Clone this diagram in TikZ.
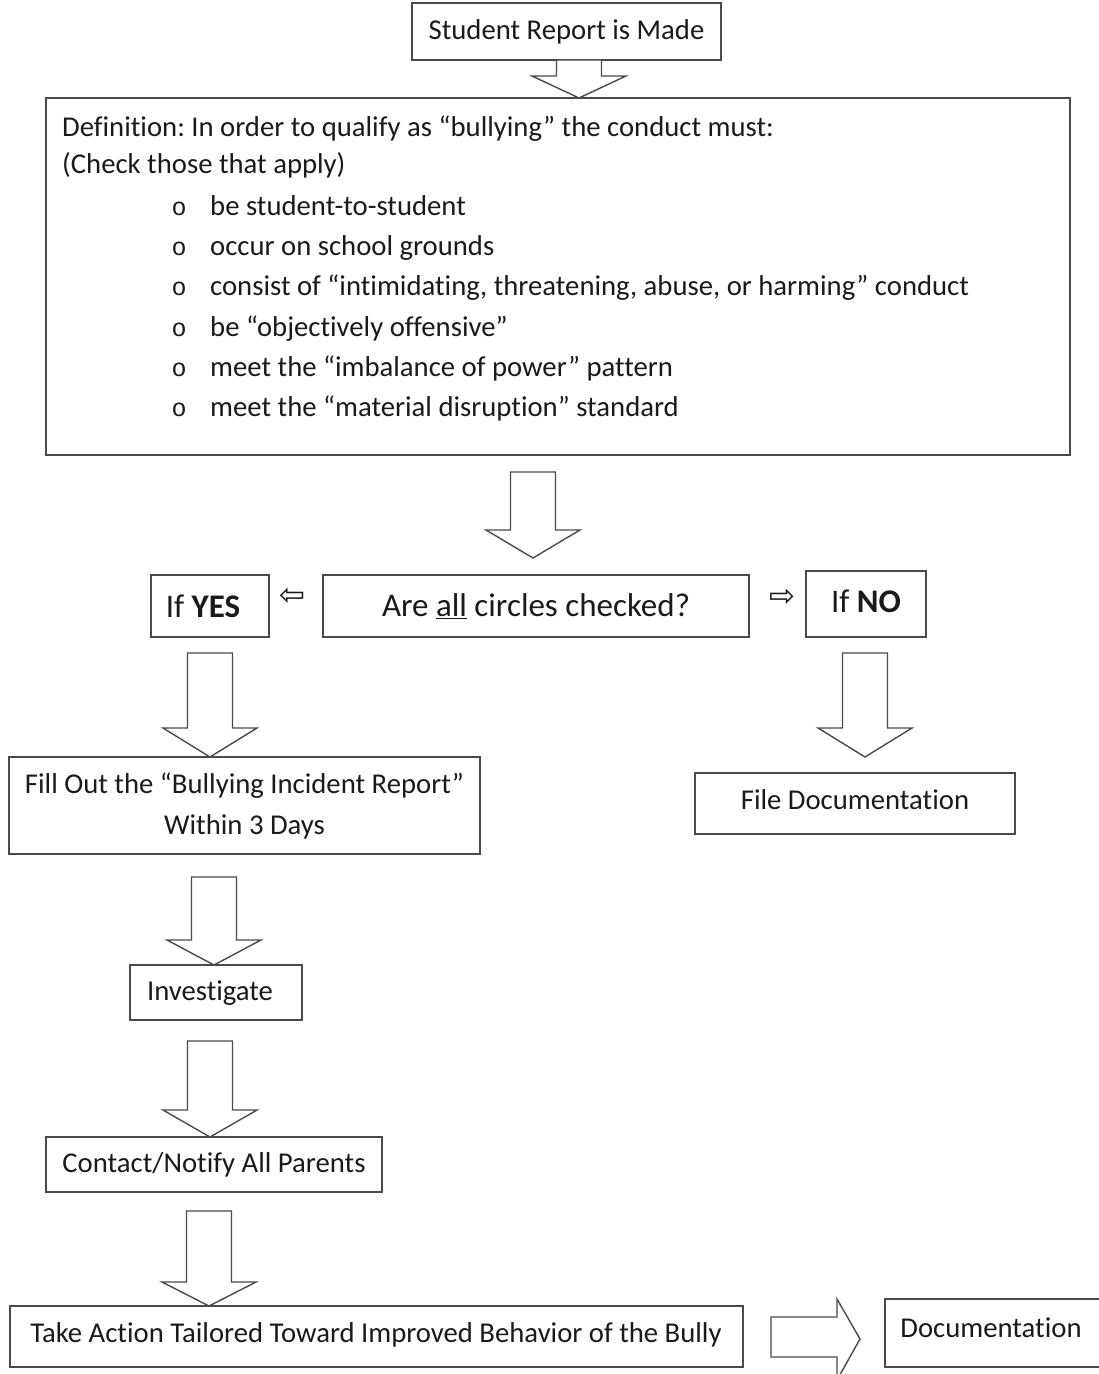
\documentclass[tikz,border=0pt]{standalone}
\usepackage{fontspec}
\setmainfont{Carlito}[Ligatures={NoCommon,NoRare,NoDiscretionary}]
\newfontfamily\symfont{DejaVu Sans}
\newfontfamily\bulfont{Liberation Mono}
\definecolor{linegray}{HTML}{4A4A4A}
\definecolor{txt}{HTML}{1A1A1A}
\frenchspacing
\newcommand\blockdown[4]{% center x, top y, head y, tip y
  \draw[arrowline] ({#1-22.5},#2) -- ({#1+22.5},#2) -- ({#1+22.5},#3) -- ({#1+47},#3) -- (#1,#4) -- ({#1-47},#3) -- ({#1-22.5},#3) -- cycle;}
\begin{document}
\begin{tikzpicture}[x=1pt,y=-1pt,
  box/.style={draw=linegray, line width=1.4pt, inner sep=0pt, text=txt, align=center, font=\fontsize{28.7}{41}\selectfont},
  tx/.style={inner sep=0pt, text=txt, align=center, font=\fontsize{28.7}{41}\selectfont},
  bigtxt/.style={inner sep=0pt, text=txt, font=\fontsize{33}{38}\selectfont},
  deftxt/.style={anchor=base west, inner sep=0pt, text=txt, font=\fontsize{28.7}{34}\selectfont},
  bul/.style={anchor=base, inner sep=0pt, text=txt, font=\bulfont\fontsize{25}{28}\selectfont},
  arrowline/.style={draw=linegray, line width=1.4pt, fill=white, line join=miter},
  smallarr/.style={inner sep=0pt, text=txt, font=\symfont\fontsize{31}{34}\selectfont}]
\useasboundingbox (0,0) rectangle (1099,1374);
\clip (0,0) rectangle (1099,1374);
\fill[white] (0,0) rectangle (1099,1374);

\node[box, minimum width=309pt, minimum height=57pt] (report) at (566.5,31.5) {Student Report is Made};
\node[box, minimum width=1024pt, minimum height=357pt] (def) at (558,276.5) {};
\node[deftxt] (d1) at (62,136) {Definition: In order to qualify as “bullying” the conduct must:};
\node[deftxt] (d2) at (62,173) {(Check those that apply)};
\foreach \yy/\tt [count=\i] in {215/be student-to-student, 255/occur on school grounds, 295/consist of “intimidating{,} threatening{,} abuse{,} or harming” conduct, 336/be “objectively offensive”, 376/meet the “imbalance of power” pattern, 416/meet the “material disruption” standard}{
  \node[bul] (b\i) at (179,\yy) {o};
  \node[deftxt] (t\i) at (210,\yy) {\tt};
}
\blockdown{579}{60}{76}{98}

\blockdown{533}{472}{530}{558}
\node[box, minimum width=426pt, minimum height=62pt] (q) at (536,606) {};
\node[bigtxt] (qt) at (536,606) {Are \underline{all} circles checked?};
\node[box, minimum width=118pt, minimum height=62pt] (yes) at (210,606) {};
\node[bigtxt] (yest) at (203,606) {If \textbf{YES}};
\node[box, minimum width=120pt, minimum height=66pt] (no) at (866,604) {};
\node[bigtxt] (not) at (866,601) {If \textbf{NO}};
\node[smallarr] (la) at (292,597) {⇦};
\node[smallarr] (ra) at (782,598) {⇨};

\blockdown{210}{653}{728}{757}
\node[box, minimum width=471pt, minimum height=97pt] (fill) at (244.5,805.5) {Fill Out the “Bullying Incident Report”\\Within 3 Days};
\blockdown{865}{653}{728}{757}
\node[box, minimum width=320pt, minimum height=61pt] (file) at (855,803.5) {};
\node[tx] (filet) at (855,800) {File Documentation};

\blockdown{214}{877}{940}{965}
\node[box, minimum width=172pt, minimum height=55pt] (inv) at (216,992.5) {};
\node[tx] (invt) at (210,993) {Investigate};

\blockdown{210}{1041}{1110}{1137}
\node[box, minimum width=336pt, minimum height=55pt] (contact) at (214,1164.5) {};
\node[tx] (contactt) at (214,1165) {Contact/Notify All Parents};

\blockdown{209}{1211}{1282}{1306}
\node[box, minimum width=733pt, minimum height=61pt] (action) at (376.5,1336.5) {};
\node[tx] (actiont) at (376,1335) {Take Action Tailored Toward Improved Behavior of the Bully};

\draw[arrowline] (771,1317) -- (837,1317) -- (837,1299) -- (860,1339) -- (837,1380) -- (837,1357) -- (771,1357) -- cycle;
\node[box, minimum width=225pt, minimum height=68pt] (doc) at (997.5,1333) {};
\node[tx] (doct) at (991,1328) {Documentation};
\end{tikzpicture}
\end{document}
